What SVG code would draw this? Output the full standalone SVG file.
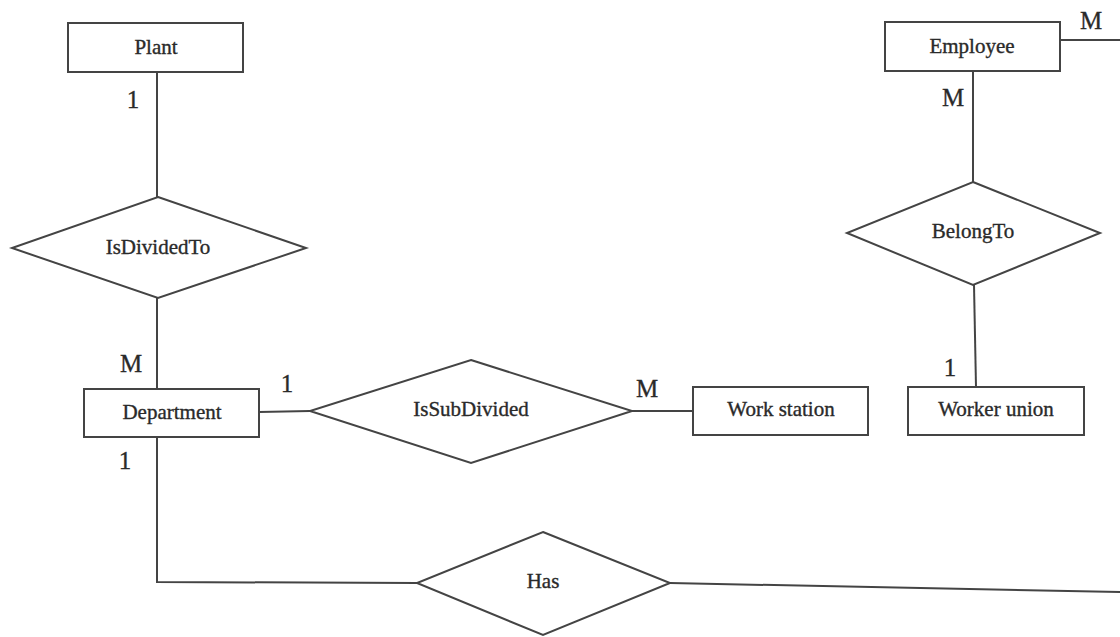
<svg xmlns="http://www.w3.org/2000/svg" width="1120" height="637" viewBox="0 0 1120 637">
  <style>
    .ent { fill: #fff; stroke: #444; stroke-width: 2; }
    .rel { fill: #fff; stroke: #444; stroke-width: 2; }
    .conn { fill: none; stroke: #444; stroke-width: 2; }
    .lbl { font-family: "Liberation Serif", "Times New Roman", serif; font-size: 21px; fill: #2a2a2a; stroke: #2a2a2a; stroke-width: 0.35; text-anchor: middle; dominant-baseline: central; }
    .card { font-family: "Liberation Serif", "Times New Roman", serif; font-size: 25px; fill: #2a2a2a; stroke: #2a2a2a; stroke-width: 0.3; text-anchor: middle; dominant-baseline: central; }
  </style>
  <rect width="1120" height="637" fill="#fff"/>

  <!-- relationship lines -->
  <g id="connectors">
    <line class="conn" x1="157" y1="72" x2="157" y2="197"/>
    <line class="conn" x1="157" y1="298" x2="157" y2="389"/>
    <polyline class="conn" points="157,437 157,582 417,583"/>
    <line class="conn" x1="259" y1="412" x2="310" y2="411"/>
    <line class="conn" x1="632" y1="411" x2="693" y2="411"/>
    <line class="conn" x1="670" y1="583" x2="1120" y2="592"/>
    <line class="conn" x1="1060" y1="40" x2="1120" y2="40"/>
    <line class="conn" x1="973" y1="71" x2="973" y2="182"/>
    <line class="conn" x1="974" y1="285" x2="976" y2="387"/>
  </g>

  <!-- cardinalities -->
  <g id="cardinalities">
    <text class="card" x="133" y="99">1</text>
    <text class="card" x="131" y="363">M</text>
    <text class="card" x="125" y="460">1</text>
    <text class="card" x="287" y="383">1</text>
    <text class="card" x="647" y="388">M</text>
    <text class="card" x="1091" y="20">M</text>
    <text class="card" x="953" y="97">M</text>
    <text class="card" x="950" y="367">1</text>
  </g>

  <g id="plant">
    <rect class="ent" x="68" y="23" width="175" height="49"/>
    <text class="lbl" x="156" y="47">Plant</text>
  </g>
  <g id="isdividedto">
    <polygon class="rel" points="158,197 306,248 158,298 12,248"/>
    <text class="lbl" x="158" y="247">IsDividedTo</text>
  </g>
  <g id="department">
    <rect class="ent" x="84" y="389" width="175" height="48"/>
    <text class="lbl" x="172" y="412">Department</text>
  </g>
  <g id="issubdivided">
    <polygon class="rel" points="471,360 632,411 471,463 310,411"/>
    <text class="lbl" x="471" y="409">IsSubDivided</text>
  </g>
  <g id="workstation">
    <rect class="ent" x="693" y="387" width="175" height="48"/>
    <text class="lbl" x="781" y="409">Work station</text>
  </g>
  <g id="has">
    <polygon class="rel" points="543,532 670,583 543,635 417,583"/>
    <text class="lbl" x="543" y="581">Has</text>
  </g>
  <g id="employee">
    <rect class="ent" x="885" y="22" width="175" height="49"/>
    <text class="lbl" x="972" y="46">Employee</text>
  </g>
  <g id="belongto">
    <polygon class="rel" points="973,182 1100,233 973,285 847,233"/>
    <text class="lbl" x="973" y="231">BelongTo</text>
  </g>
  <g id="workerunion">
    <rect class="ent" x="908" y="387" width="176" height="48"/>
    <text class="lbl" x="996" y="409">Worker union</text>
  </g>
</svg>
